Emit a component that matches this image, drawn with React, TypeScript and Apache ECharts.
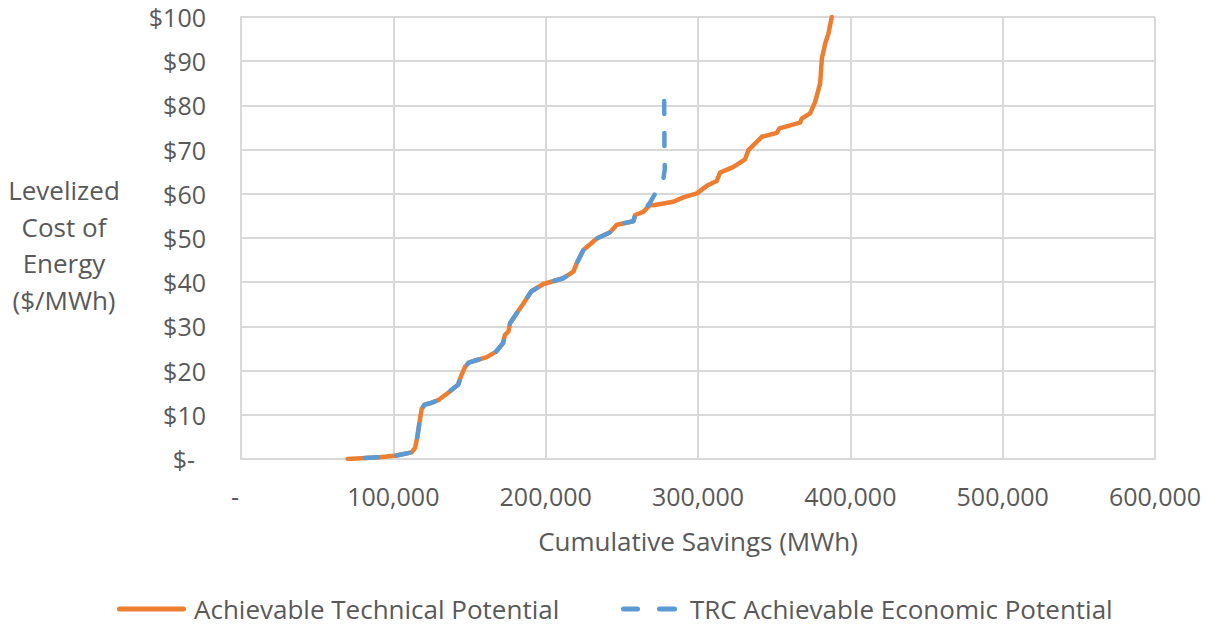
import React, { useEffect, useRef } from "react";
import * as echarts from "echarts";

// Supply curve points: [cumulative savings (MWh), levelized cost ($/MWh)]
const technicalPotential: [number, number][] = [
  [70000, 0], [91000, 0.4], [102000, 0.8], [112000, 1.5], [114300, 2.5],
  [115800, 5.1], [117100, 8.1], [118600, 11.3], [120500, 12.3], [124000, 12.6],
  [129500, 13.3], [136000, 15.0], [142500, 16.8], [144500, 18.8], [147000, 20.8],
  [149500, 21.8], [155000, 22.4], [161000, 23.0], [167500, 24.3], [172000, 26.2],
  [173300, 28.1], [175500, 28.8], [176600, 30.7], [181000, 33.0], [185400, 35.2],
  [190500, 37.9], [198500, 39.6], [211600, 40.9], [218200, 42.4], [220400, 44.3],
  [224800, 47.3], [233600, 49.9], [242300, 51.3], [246700, 53.0], [257600, 53.8],
  [258700, 55.2], [264100, 55.9], [268500, 57.5], [270700, 57.4], [283800, 58.2],
  [290400, 59.2], [299200, 60.1], [305800, 61.8], [312300, 62.9], [314500, 64.8],
  [323300, 66.1], [330900, 67.8], [333100, 69.9], [341900, 72.9], [351700, 73.8],
  [353500, 74.8], [367000, 76.1], [368100, 77.0], [373600, 78.2], [376900, 80.8],
  [380200, 85.0], [381300, 90.6], [383500, 94.0], [385600, 96.2], [387800, 100],
];

const economicPotential: [number, number][] = [
  [70000, 0], [91000, 0.4], [102000, 0.8], [112000, 1.5], [114300, 2.5],
  [115800, 5.1], [117100, 8.1], [118600, 11.3], [120500, 12.3], [124000, 12.6],
  [129500, 13.3], [136000, 15.0], [142500, 16.8], [144500, 18.8], [147000, 20.8],
  [149500, 21.8], [155000, 22.4], [161000, 23.0], [167500, 24.3], [172000, 26.2],
  [173300, 28.1], [175500, 28.8], [176600, 30.7], [181000, 33.0], [185400, 35.2],
  [190500, 37.9], [198500, 39.6], [211600, 40.9], [218200, 42.4], [220400, 44.3],
  [224800, 47.3], [233600, 49.9], [242300, 51.3], [246700, 53.0], [257600, 53.8],
  [258700, 55.2], [264100, 55.9], [268500, 58.0], [271500, 59.8], [274600, 61.8],
  [277300, 63.5], [278200, 65.5], [278000, 70.0], [277800, 81.3],
];

const seriesNames = ["Achievable Technical Potential", "TRC Achievable Economic Potential"];
const xTicks = [0, 100000, 200000, 300000, 400000, 500000, 600000];
const yTicks = [0, 10, 20, 30, 40, 50, 60, 70, 80, 90, 100];

const FONT = "'Open Sans', 'Noto Sans', sans-serif";
const TEXT = "#595959";
const GRID = "#d9d9d9";
const ORANGE = "#ED7D31";
const BLUE = "#5B9BD5";
const TICK_SIZE = 25;
const TITLE_SIZE = 26;

export default function App() {
  const ref = useRef<HTMLDivElement>(null);

  useEffect(() => {
    if (!ref.current) return;
    const chart = echarts.init(ref.current, undefined, { renderer: "svg" });
    const legendY = 609;
    chart.setOption({
      animation: false,
      backgroundColor: "#ffffff",
      textStyle: { fontFamily: FONT, color: TEXT },
      grid: { left: 241, right: 56, top: 17, bottom: 168, containLabel: false },
      xAxis: {
        type: "value",
        min: xTicks[0],
        max: xTicks[xTicks.length - 1],
        interval: xTicks[1] - xTicks[0],
        name: "Cumulative Savings (MWh)",
        nameLocation: "middle",
        nameGap: 69,
        nameTextStyle: { fontSize: TITLE_SIZE, color: TEXT, fontFamily: FONT },
        axisLine: { show: true, lineStyle: { color: GRID, width: 2 } },
        axisTick: { show: false },
        splitLine: { show: true, lineStyle: { color: GRID, width: 2 } },
        axisLabel: {
          fontSize: TICK_SIZE,
          color: TEXT,
          fontFamily: FONT,
          margin: 24,
          formatter: (v: number) => (v === 0 ? "{z|-}" : v.toLocaleString("en-US")),
          rich: {
            z: { fontSize: TICK_SIZE, color: TEXT, fontFamily: FONT, padding: [0, 12, 0, 0] },
          },
        },
      },
      yAxis: {
        type: "value",
        min: yTicks[0],
        max: yTicks[yTicks.length - 1],
        interval: yTicks[1] - yTicks[0],
        axisLine: { show: true, lineStyle: { color: GRID, width: 2 } },
        axisTick: { show: false },
        splitLine: { show: true, lineStyle: { color: GRID, width: 2 } },
        axisLabel: {
          fontSize: TICK_SIZE,
          color: TEXT,
          fontFamily: FONT,
          margin: 35,
          formatter: (v: number) => (v === 0 ? "{z|$-}" : "$" + v),
          rich: {
            z: { fontSize: TICK_SIZE, color: TEXT, fontFamily: FONT, padding: [0, 11, 0, 0] },
          },
        },
      },
      graphic: [
        {
          type: "text",
          x: 64,
          y: 245,
          style: {
            text: "Levelized\nCost of\nEnergy\n($/MWh)",
            fill: TEXT,
            fontSize: TITLE_SIZE,
            fontFamily: FONT,
            lineHeight: 36.5,
            align: "center",
            verticalAlign: "middle",
          },
        },
        // legend: solid line sample + label
        {
          type: "line",
          shape: { x1: 119.5, y1: legendY, x2: 183.5, y2: legendY },
          style: { stroke: ORANGE, lineWidth: 5, lineCap: "round" },
        },
        {
          type: "text",
          x: 194,
          y: legendY,
          style: {
            text: seriesNames[0],
            fill: TEXT,
            fontSize: TITLE_SIZE,
            fontFamily: FONT,
            align: "left",
            verticalAlign: "middle",
          },
        },
        // legend: dashed line sample + label
        {
          type: "line",
          shape: { x1: 623.5, y1: legendY, x2: 637.5, y2: legendY },
          style: { stroke: BLUE, lineWidth: 5, lineCap: "round" },
        },
        {
          type: "line",
          shape: { x1: 659.5, y1: legendY, x2: 674.5, y2: legendY },
          style: { stroke: BLUE, lineWidth: 5, lineCap: "round" },
        },
        {
          type: "text",
          x: 690,
          y: legendY,
          style: {
            text: seriesNames[1],
            fill: TEXT,
            fontSize: TITLE_SIZE,
            fontFamily: FONT,
            align: "left",
            verticalAlign: "middle",
          },
        },
      ],
      series: [
        {
          name: seriesNames[0],
          type: "line",
          data: technicalPotential,
          showSymbol: false,
          symbol: "none",
          lineStyle: { color: ORANGE, width: 4.5, join: "round", cap: "round" },
          itemStyle: { color: ORANGE },
          z: 2,
        },
        {
          name: seriesNames[1],
          type: "line",
          data: economicPotential,
          showSymbol: false,
          symbol: "none",
          lineStyle: {
            color: BLUE,
            width: 4.5,
            type: [13, 19],
            dashOffset: 15,
            join: "round",
            cap: "round",
          },
          itemStyle: { color: BLUE },
          z: 3,
        },
      ],
    });
    return () => chart.dispose();
  }, []);

  return (
    <div
      ref={ref}
      style={{ position: "fixed", left: 0, top: 0, width: 1211, height: 627, background: "#fff" }}
    />
  );
}
